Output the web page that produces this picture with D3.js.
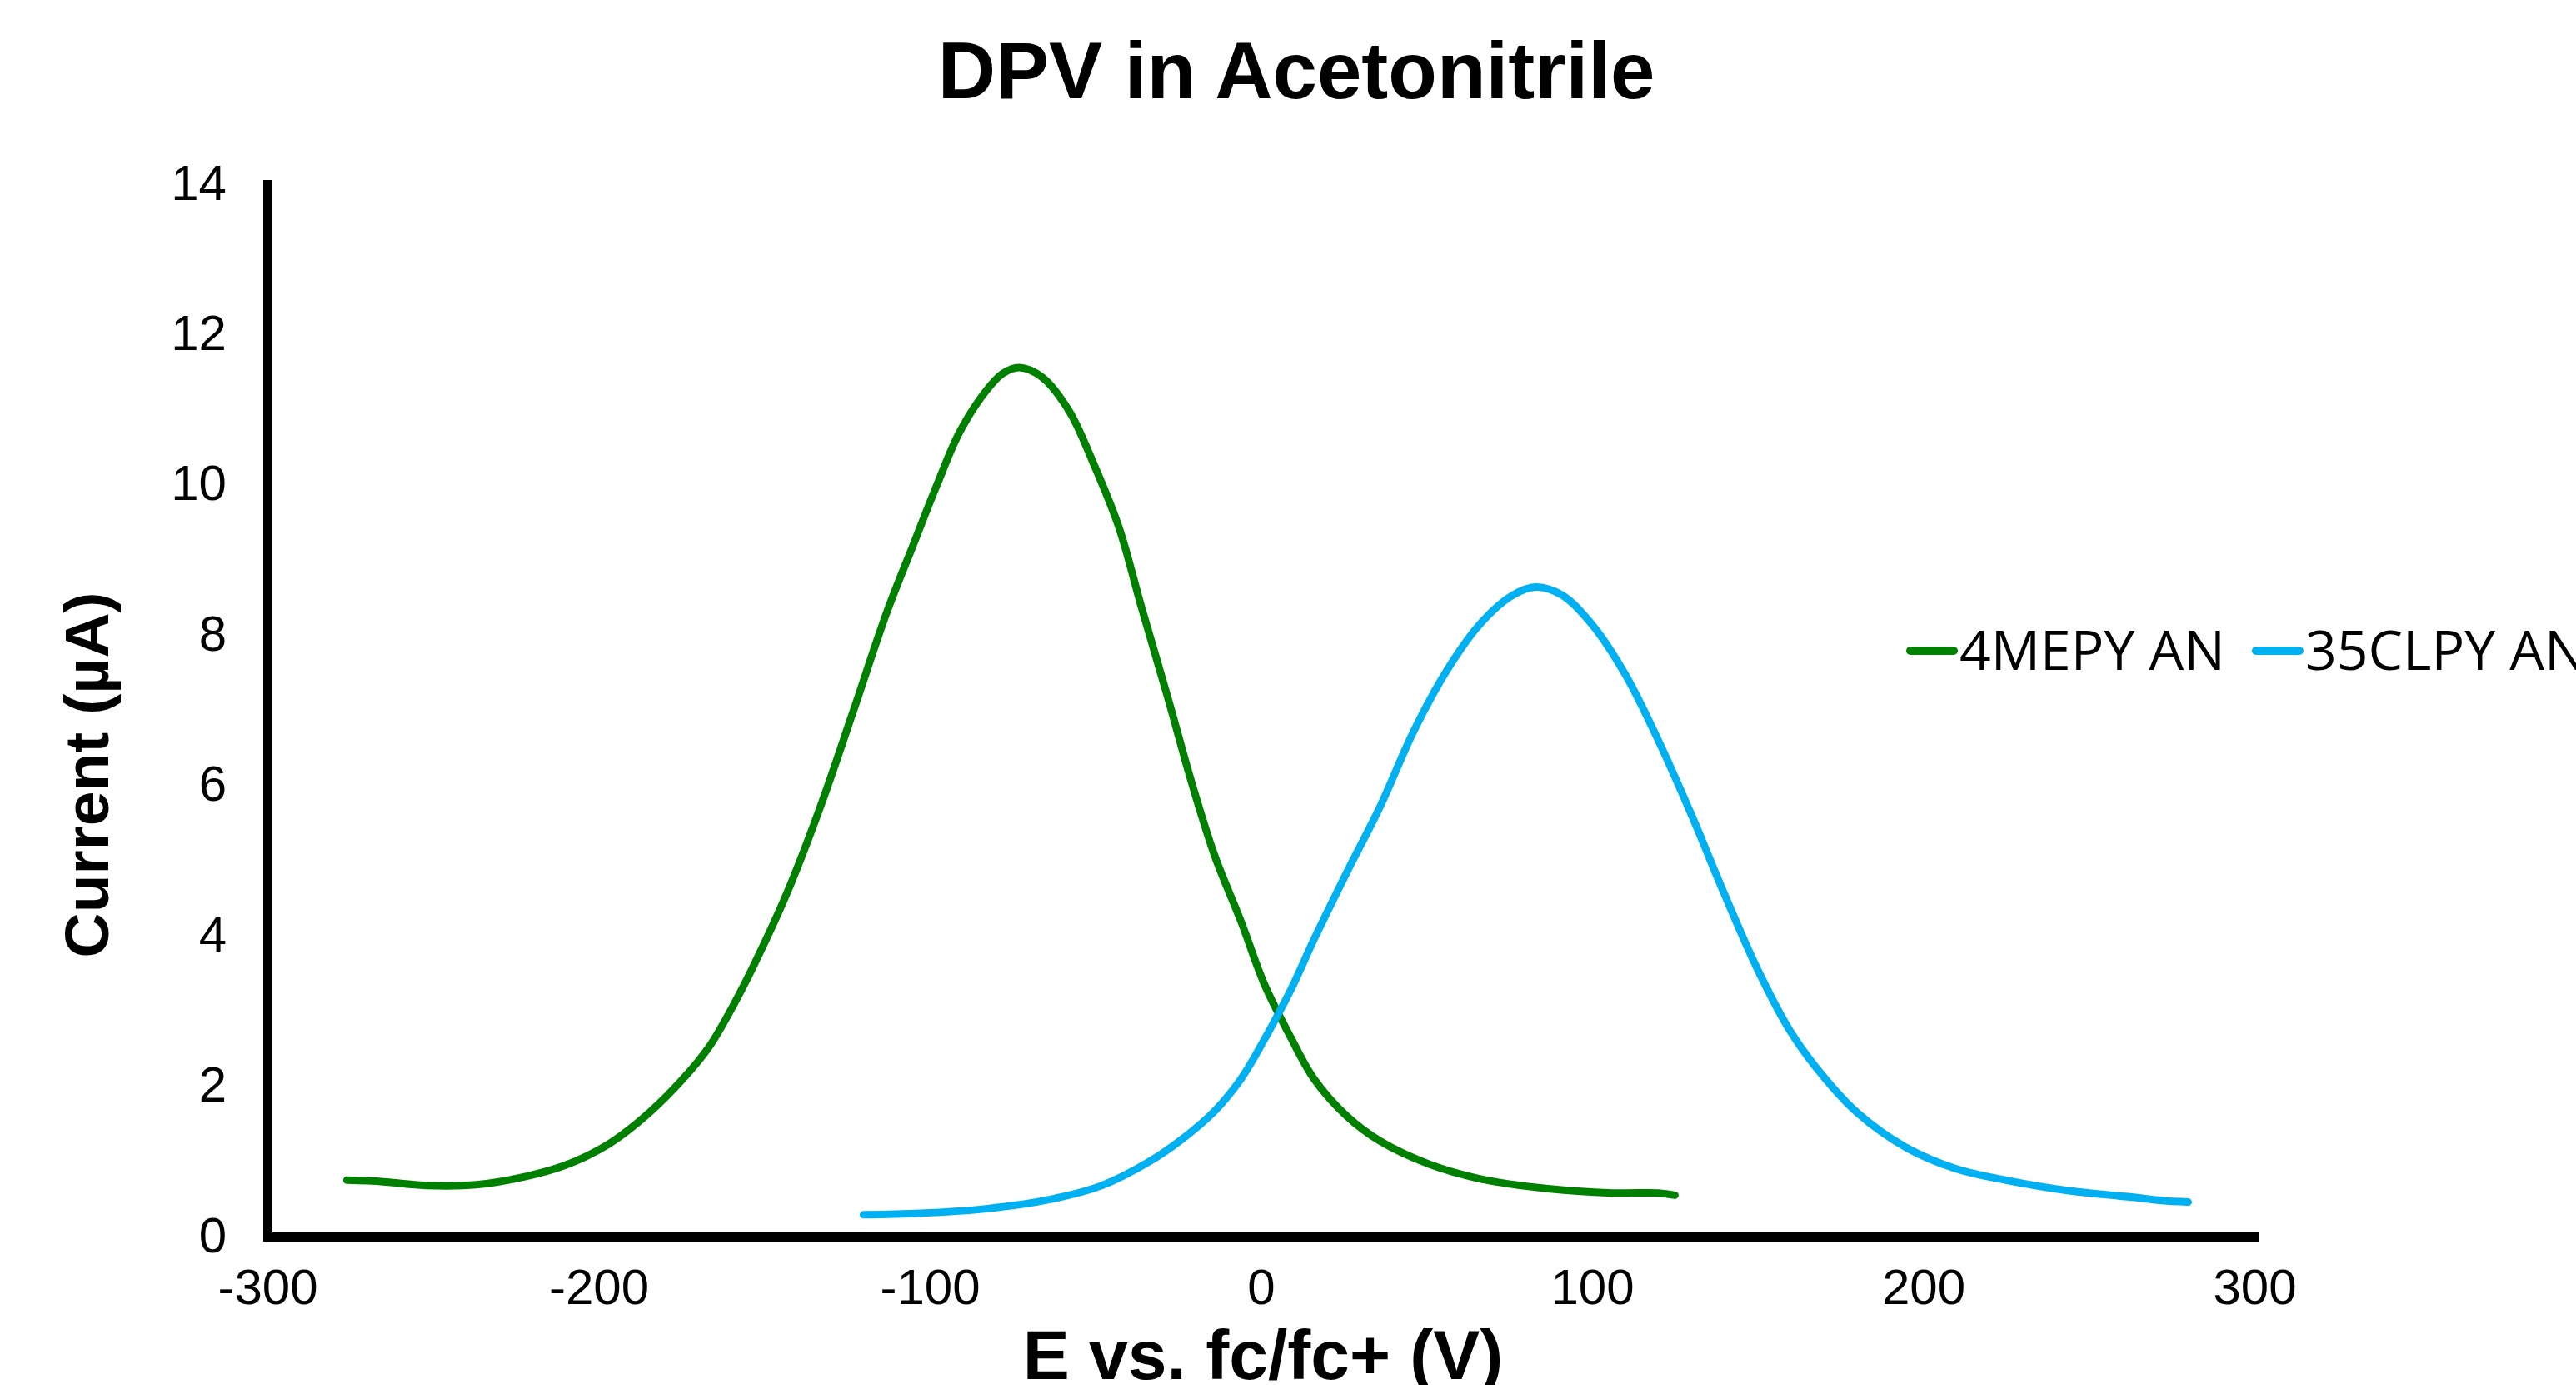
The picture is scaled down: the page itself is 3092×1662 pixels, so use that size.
<!DOCTYPE html>
<html>
<head>
<meta charset="utf-8">
<script src="https://cdn.jsdelivr.net/npm/d3@7"></script>
<style>
  body { margin: 0; background: #fff; }
  svg { display: block; }
</style>
</head>
<body>
<svg width="3092" height="1662"></svg>
<script>
// Data
var seriesNames = ["4MEPY AN", "35CLPY AN"];
var seriesColors = ["#008000", "#00b0f0"];

var mepyX = [-276, -265, -252, -237, -222, -210, -197, -187, -177, -167, -160, -153, -143, -133, -123, -113,
    -105, -98, -91, -83, -78, -73, -66, -58, -51, -43, -36, -28, -21, -14, -6, 1, 9, 16, 26, 36, 51, 66, 86, 106, 120, 125];
var mepyY = [0.75, 0.73, 0.68, 0.69, 0.80, 0.95, 1.23, 1.56, 1.98, 2.50, 3.02, 3.62, 4.58, 5.72, 7.00, 8.30,
    9.20, 9.98, 10.70, 11.25, 11.48, 11.56, 11.43, 10.99, 10.33, 9.45, 8.36, 7.15, 6.05, 5.07, 4.19, 3.36, 2.65, 2.1, 1.6, 1.27, 0.96, 0.77, 0.64, 0.58, 0.58, 0.55];

var clpyX = [-120, -103, -83, -63, -48, -34, -24, -14, -6, 1, 9, 16, 26, 36, 46, 56, 66, 76, 83, 91, 100,
    110, 120, 130, 140, 150, 160, 170, 180, 195, 210, 225, 244, 264, 272, 280];
var clpyY = [0.29, 0.31, 0.37, 0.50, 0.68, 0.99, 1.29, 1.67, 2.1, 2.62, 3.28, 3.95, 4.85, 5.72, 6.71, 7.52, 8.14, 8.53, 8.64, 8.53, 8.14,
    7.48, 6.6, 5.61, 4.55, 3.55, 2.72, 2.12, 1.65, 1.18, 0.9, 0.75, 0.61, 0.52, 0.48, 0.46];

var xTicks = [-300, -200, -100, 0, 100, 200, 300];
var yTicks = [0, 2, 4, 6, 8, 10, 12, 14];

var svg = d3.select("svg");
var font = "'Liberation Sans', Arial, Helvetica, sans-serif";

var x = d3.scaleLinear().domain([-300, 300]).range([321, 2706]);
var y = d3.scaleLinear().domain([0, 14]).range([1484, 221]);

// Title
svg.append("text")
    .attr("x", 1556).attr("y", 118)
    .attr("text-anchor", "middle")
    .style("font-family", font).style("font-weight", "bold").style("font-size", "96px")
    .text("DPV in Acetonitrile");

// axes (plain hyphen for negatives, like the original)
var xAxis = svg.append("g")
    .attr("transform", "translate(0," + y(0) + ")")
    .call(d3.axisBottom(x).tickValues(xTicks).tickSize(0).tickPadding(38)
        .tickFormat(function (d) { return String(d); }));
var yAxis = svg.append("g")
    .attr("transform", "translate(" + x(-300) + ",0)")
    .call(d3.axisLeft(y).tickValues(yTicks).tickSize(0).tickPadding(49));

[xAxis, yAxis].forEach(function (a) {
    a.select(".domain").attr("stroke", "#000").attr("stroke-width", 11).attr("stroke-linecap", "square");
    a.selectAll("text").style("font-family", font).style("font-size", "60px").attr("fill", "#000");
});
yAxis.selectAll("text").attr("dy", "0.3em");

// axis titles
svg.append("text")
    .attr("x", 1516).attr("y", 1655)
    .attr("text-anchor", "middle")
    .style("font-family", font).style("font-weight", "bold").style("font-size", "84px")
    .text("E vs. fc/fc+ (V)");

svg.append("text")
    .attr("transform", "translate(130,930) rotate(-90)")
    .attr("text-anchor", "middle")
    .style("font-family", font).style("font-weight", "bold").style("font-size", "75px")
    .text("Current (µA)");

// lines
var line = d3.line()
    .x(function (d) { return x(d[0]); })
    .y(function (d) { return y(d[1]); })
    .curve(d3.curveCatmullRom.alpha(0.5));

var series = [d3.zip(mepyX, mepyY), d3.zip(clpyX, clpyY)];
svg.selectAll(".series").data(series).enter().append("path")
    .attr("class", "series")
    .attr("d", line)
    .attr("fill", "none")
    .attr("stroke", function (d, i) { return seriesColors[i]; })
    .attr("stroke-width", 9)
    .attr("stroke-linecap", "round")
    .attr("stroke-linejoin", "round");

// legend
var lx = 2293, ly = 781;
seriesNames.forEach(function (name, i) {
    svg.append("line")
        .attr("x1", lx).attr("x2", lx + 52)
        .attr("y1", ly).attr("y2", ly)
        .attr("stroke", seriesColors[i]).attr("stroke-width", 10).attr("stroke-linecap", "round");
    var t = svg.append("text")
        .attr("x", lx + 59).attr("y", ly + 23)
        .style("font-family", "'Open Sans', sans-serif").style("font-size", "66px")
        .text(name);
    lx = lx + 59 + t.node().getComputedTextLength() + 37;
});
</script>
</body>
</html>
